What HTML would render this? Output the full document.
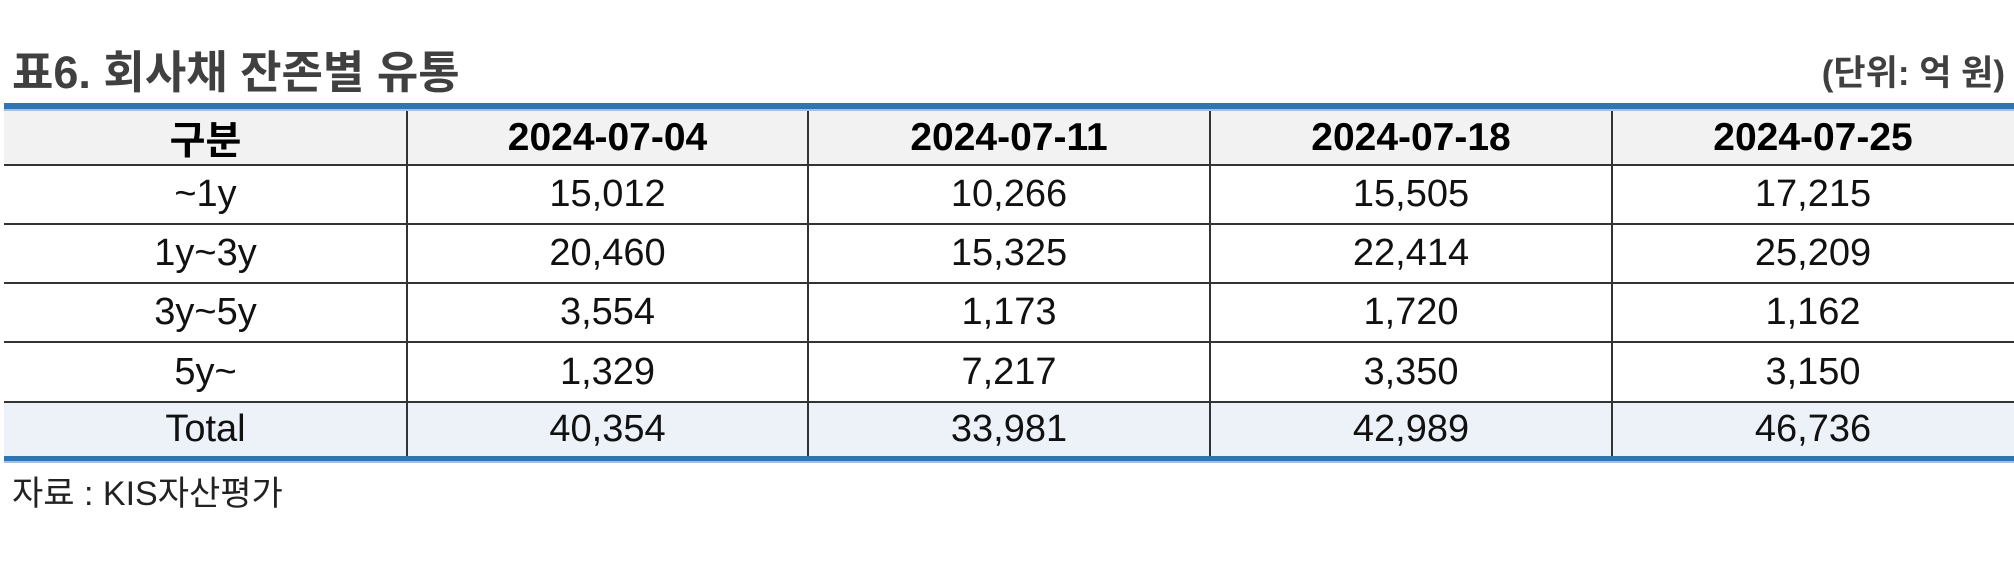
<!DOCTYPE html>
<html><head><meta charset="utf-8">
<style>
body{margin:0;width:2014px;height:566px;background:#fff;position:relative;overflow:hidden;font-family:"Liberation Sans","Noto Sans CJK KR",sans-serif;}
.abs{position:absolute;}
.cell{position:absolute;display:flex;align-items:center;justify-content:center;color:#111;font-size:38px;white-space:nowrap;}
.hdr{font-weight:bold;font-size:39px;color:#000;}
.hl{position:absolute;left:4px;right:0;height:2px;background:#333;}
.vl{position:absolute;width:2px;background:#333;}
</style></head><body>
<div class="abs" style="left:12px;top:48px;font-size:45px;font-weight:bold;color:#404040;line-height:50px;">표6. 회사채 잔존별 유통</div>
<div class="abs" style="right:9px;top:54px;font-size:35px;font-weight:bold;color:#404040;line-height:40px;">(단위: 억 원)</div>
<div class="abs" style="left:4px;right:0;top:103px;height:6px;background:#2e75b6;border-bottom:2px solid #9dc3e6;"></div>
<div class="abs" style="left:4px;right:0;top:111px;height:54px;background:#f2f2f2;"></div>
<div class="abs" style="left:4px;right:0;top:402px;height:54px;background:#edf2f9;"></div>
<div class="abs" style="left:4px;right:0;top:456px;height:5px;background:#2e75b6;border-bottom:2px solid #9dc3e6;"></div>
<div id="tbl"></div>
<div class="abs" style="left:12px;top:474px;font-size:34px;color:#222;line-height:40px;">자료 : KIS자산평가</div>
<script>
const headers=["구분","2024-07-04","2024-07-11","2024-07-18","2024-07-25"];
const categories=["~1y","1y~3y","3y~5y","5y~","Total"];
const col0704=["15,012","20,460","3,554","1,329","40,354"];
const col0711=["10,266","15,325","1,173","7,217","33,981"];
const col0718=["15,505","22,414","1,720","3,350","42,989"];
const col0725=["17,215","25,209","1,162","3,150","46,736"];
const cols=[categories,col0704,col0711,col0718,col0725];
const xs=[4,407,808,1210,1612,2014];
const ys=[111,165,224,283,342,402,456];
const t=document.getElementById('tbl');
headers.forEach((h,i)=>{
  const d=document.createElement('div');
  d.className='cell hdr';
  d.style.left=xs[i]+'px';d.style.width=(xs[i+1]-xs[i])+'px';
  d.style.top=ys[0]+'px';d.style.height=(ys[1]-ys[0])+'px';
  d.textContent=h;
  
  
  t.appendChild(d);
});
cols.forEach((c,i)=>{
  c.forEach((v,r)=>{
    const d=document.createElement('div');
    d.className='cell';
    d.style.left=xs[i]+'px';d.style.width=(xs[i+1]-xs[i])+'px';
    d.style.top=ys[r+1]+'px';d.style.height=(ys[r+2]-ys[r+1])+'px';
    d.textContent=v;
    
    
    t.appendChild(d);
  });
});
for(let r=1;r<=5;r++){
  const l=document.createElement('div');
  l.className='hl';l.style.top=(ys[r]-1)+'px';
  
  
  t.appendChild(l);
}
for(let i=1;i<=4;i++){
  const l=document.createElement('div');
  l.className='vl';l.style.left=(xs[i]-1)+'px';l.style.top=ys[0]+'px';l.style.height=(ys[6]-ys[0])+'px';
  
  
  t.appendChild(l);
}
</script>
</body></html>
